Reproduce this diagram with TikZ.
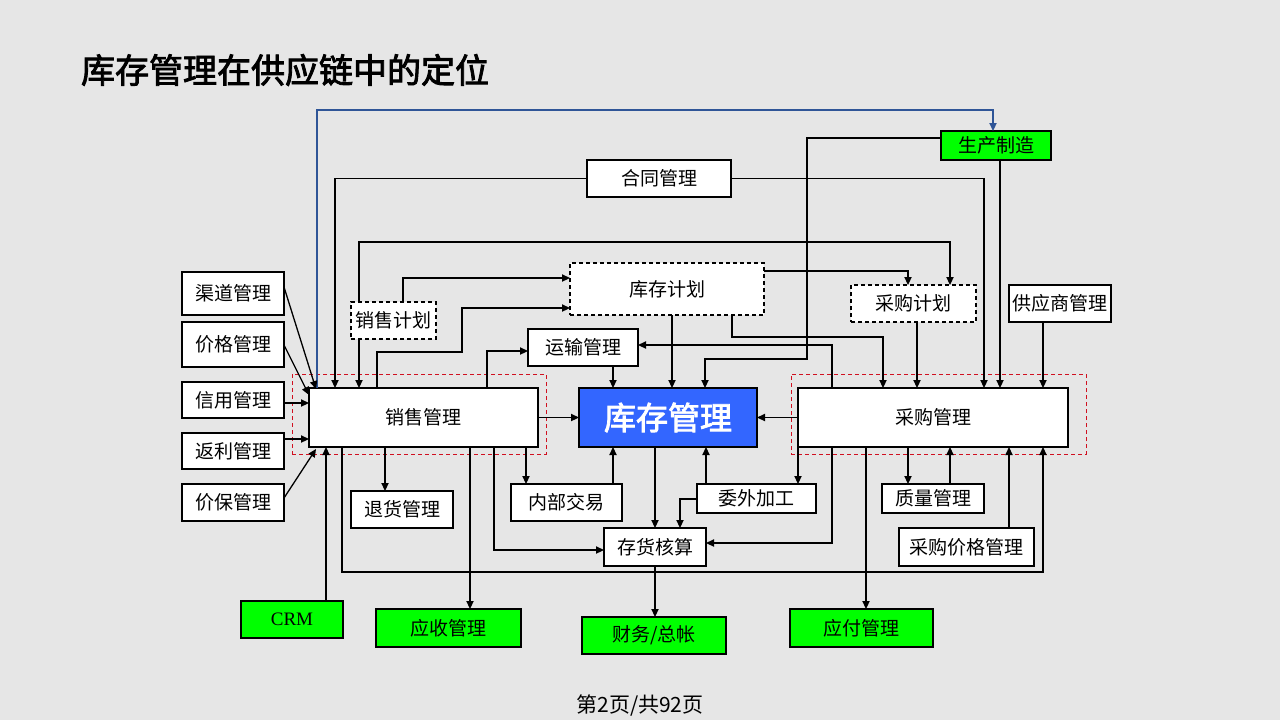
\documentclass[tikz,border=0pt]{standalone}
\usepackage{fontspec}
\setmainfont{Noto Sans CJK SC}[AutoFakeBold=2.5]
\newfontfamily\crmfont{Liberation Serif}
\usetikzlibrary{arrows.meta}
\definecolor{bg}{HTML}{E6E6E6}
\definecolor{kcblue}{HTML}{3366FF}
\definecolor{grn}{HTML}{00FF00}
\definecolor{redd}{HTML}{D01020}
\definecolor{bline}{HTML}{2F5597}
\tikzset{
 box/.style={draw=black, line width=0.55pt, fill=white, inner sep=0pt, outer sep=0pt, font=\fontsize{9.5}{11}\selectfont},
 dbox/.style={box, dash pattern=on 2pt off 1.5pt},
 gbox/.style={box, fill=grn},
 kbox/.style={box, fill=kcblue, text=white, font=\fontsize{16}{18}\selectfont\bfseries},
 rbox/.style={draw=redd, line width=0.5pt, dash pattern=on 2pt off 1.5pt, inner sep=0pt, outer sep=0pt},
 conn/.style={draw=black, line width=0.65pt, -{Triangle[length=4pt,width=3.6pt]}},
 bconn/.style={draw=bline, line width=0.65pt, -{Triangle[length=4pt,width=3.6pt]}},
 plain/.style={draw=black, line width=0.65pt},
}
\newcommand{\mybox}[7]{%
 \pgfmathsetmacro\mbw{(#5-#3)*0.5}\pgfmathsetmacro\mbh{(#6-#4)*0.5}%
 \node[#2, minimum width=\mbw pt, minimum height=\mbh pt] (#1) at ({(#3+#5)/2},{(#4+#6)/2}) {#7};}
\begin{document}
\begin{tikzpicture}[x=0.5pt,y=-0.5pt]
\fill[bg] (0,0) rectangle (1280,720);
\useasboundingbox (0,0) rectangle (1280,720);

\node[anchor=west, font=\fontsize{17}{20}\selectfont\bfseries] (title) at (74,70) {库存管理在供应链中的定位};
\node[font=\fontsize{10.5}{12}\selectfont] (footer) at (640,705) {第2页/共92页};

% red dashed groups
\mybox{xsred}{rbox}{292}{374}{546}{454}{}
\mybox{cgred}{rbox}{791}{374}{1086}{454}{}

% nodes
\mybox{sczz}{gbox}{941}{131}{1051}{160}{生产制造}
\mybox{htgl}{box}{587}{160}{731}{197}{合同管理}
\mybox{kcjh}{dbox}{570}{263}{764}{315}{库存计划}
\mybox{cgjh}{dbox}{851}{285}{976}{322}{采购计划}
\mybox{gysgl}{box}{1009}{285}{1111}{322}{供应商管理}
\mybox{xsjh}{dbox}{351}{302}{436}{339}{销售计划}
\mybox{qdgl}{box}{182}{272}{284}{315}{渠道管理}
\mybox{jggl}{box}{182}{322}{284}{367}{价格管理}
\mybox{xygl}{box}{182}{382}{284}{418}{信用管理}
\mybox{flgl}{box}{182}{433}{284}{469}{返利管理}
\mybox{jbgl}{box}{182}{484}{284}{521}{价保管理}
\mybox{ysgl}{box}{528}{329}{638}{366}{运输管理}
\mybox{xsgl}{box}{309}{388}{538}{447}{销售管理}
\mybox{kcgl}{kbox}{579}{388}{757}{447}{库存管理}
\mybox{cggl}{box}{798}{388}{1068}{447}{采购管理}
\mybox{thgl}{box}{351}{491}{453}{528}{退货管理}
\mybox{nbjy}{box}{511}{484}{622}{521}{内部交易}
\mybox{wwjg}{box}{697}{484}{816}{513}{委外加工}
\mybox{zlgl}{box}{882}{484}{984}{513}{质量管理}
\mybox{chhs}{box}{604}{528}{706}{566}{存货核算}
\mybox{cgjggl}{box}{899}{528}{1034}{566}{采购价格管理}
\mybox{crm}{gbox}{241}{601}{343}{638}{\crmfont CRM}
\mybox{yszk}{gbox}{376}{609}{521}{647}{应收管理}
\mybox{cwzz}{gbox}{582}{617}{726}{654}{财务/总帐}
\mybox{yfgl}{gbox}{790}{609}{933}{647}{应付管理}

% connectors
\draw[bconn] (xsgl.north -| 317,0) -- (317,110) -| (sczz.north -| 993,0);
\draw[conn] (htgl.west) -| (xsgl.north -| 335,0);
\draw[conn] (htgl.east) -| (cggl.north -| 984,0);
\draw[conn] (sczz.west |- 0,138) -| (807,359) -| (kcgl.north -| 705,0);
\draw[conn] (sczz.south -| 1000,0) -- (cggl.north -| 1000,0);
\draw[conn] (xsjh.north -| 359,0) -- (359,242) -| (cgjh.north -| 950,0);
\draw[conn] (xsjh.south -| 359,0) -- (xsgl.north -| 359,0);
\draw[conn] (xsjh.north -| 403,0) |- (kcjh.west |- 0,278);
\draw[conn] (xsgl.north -| 377,0) -- (377,352) -| (462,308) -- (kcjh.west |- 0,308);
\draw[conn] (xsgl.north -| 487,0) |- (ysgl.west |- 0,351);
\draw[conn] (kcjh.east |- 0,271) -| (cgjh.north -| 908,0);
\draw[conn] (kcjh.south -| 732,0) |- (883,337) -- (cggl.north -| 883,0);
\draw[conn] (kcjh.south -| 672,0) -- (kcgl.north -| 672,0);
\draw[conn] (ysgl.south -| 613,0) -- (kcgl.north -| 613,0);
\draw[conn] (cggl.north -| 832,0) |- (ysgl.east |- 0,345);
\draw[conn] (cggl.south -| 832,0) |- (chhs.east |- 0,543);
\draw[conn] (cgjh.south -| 917,0) -- (cggl.north -| 917,0);
\draw[conn] (gysgl.south -| 1043,0) -- (cggl.north -| 1043,0);
\draw[conn] (xsgl.east) -- (kcgl.west);
\draw[conn] (cggl.west) -- (kcgl.east);
\draw[conn] (cggl.south -| 798,0) -- (wwjg.north -| 798,0);
\draw[conn] (cggl.south -| 866,0) -- (yfgl.north -| 866,0);
\draw[conn] (cggl.south -| 908,0) -- (zlgl.north -| 908,0);
\draw[conn] (zlgl.north -| 950,0) -- (cggl.south -| 950,0);
\draw[conn] (cgjggl.north -| 1009,0) -- (cggl.south -| 1009,0);
\draw[conn] (xsgl.south -| 342,0) |- (1043,572) -- (cggl.south -| 1043,0);
\draw[conn] (xsgl.south -| 385,0) -- (thgl.north -| 385,0);
\draw[conn] (xsgl.south -| 470,0) -- (yszk.north -| 470,0);
\draw[conn] (xsgl.south -| 494,0) |- (chhs.west |- 0,550);
\draw[conn] (xsgl.south -| 526,0) -- (nbjy.north -| 526,0);
\draw[conn] (nbjy.north -| 613,0) -- (kcgl.south -| 613,0);
\draw[conn] (kcgl.south -| 655,0) -- (chhs.north -| 655,0);
\draw[conn] (wwjg.north -| 706,0) -- (kcgl.south -| 706,0);
\draw[conn] (wwjg.west |- 0,499) -| (chhs.north -| 680,0);
\draw[conn] (chhs.south) -- (cwzz.north -| 655,0);
\draw[conn] (crm.north -| 326,0) -- (xsgl.south -| 326,0);
\draw[conn] (qdgl.east |- 0,287) -- (316,389);
\draw[conn] (jggl.east |- 0,345) -- (xsgl.west |- 0,395);
\draw[conn] (xygl.east |- 0,403) -- (xsgl.west |- 0,403);
\draw[conn] (flgl.east |- 0,439) -- (xsgl.west |- 0,439);
\draw[conn] (jbgl.east |- 0,498) -- (316,449);
\end{tikzpicture}
\end{document}
